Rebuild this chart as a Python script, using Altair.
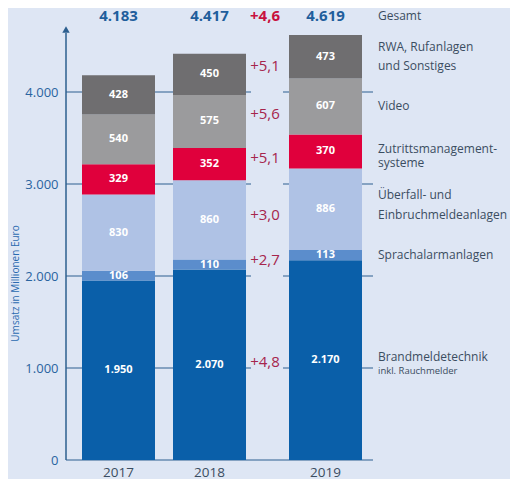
import pandas as pd
import altair as alt

# --- data (Mio. Euro) ---
years = ["2017", "2018", "2019"]
segments = [
    "Brandmeldetechnik",
    "Sprachalarmanlagen",
    "Überfall- und Einbruchmeldeanlagen",
    "Zutrittsmanagementsysteme",
    "Video",
    "RWA, Rufanlagen und Sonstiges",
]
brand = [1950, 2070, 2170]
sprach = [106, 110, 113]
ueberfall = [830, 860, 886]
zutritt = [329, 352, 370]
video = [540, 575, 607]
rwa = [428, 450, 473]
totals = [4183, 4417, 4619]
growth_total = "+4,6"
growth = ["+4,8", "+2,7", "+3,0", "+5,1", "+5,6", "+5,1"]  # bottom to top
right_lines = [
    ["Brandmeldetechnik", "inkl. Rauchmelder"],
    ["Sprachalarmanlagen"],
    ["Überfall- und", "Einbruchmeldeanlagen"],
    ["Zutrittsmanagement-", "systeme"],
    ["Video"],
    ["RWA, Rufanlagen", "und Sonstiges"],
]
y_ticks = [0, 1000, 2000, 3000, 4000]

series = [brand, sprach, ueberfall, zutritt, video, rwa]
colors = ["#0a5fa9", "#5b8dcc", "#afc2e5", "#e0003c", "#9b9b9d", "#6f6e70"]

# --- layout ---
W, H = 444, 446
U = 4000 / 368  # data units per pixel
YMAX = H * U
BAR_W = 73
GRID_END = 307
GAP_X = 199
RIGHT_X = 312
TOP_ROW = 444 * U
BG = "#dee6f4"
FONT = "Open Sans"


def de(v):
    return f"{v:,}".replace(",", ".")


rows = []
for i, yr in enumerate(years):
    left = 16 + i * 91 + (25 if i == 2 else 0)
    base = 0
    for seg, vals in zip(segments, series):
        v = vals[i]
        rows.append(dict(year=yr, seg=seg, x0=left, x1=left + BAR_W, xc=left + BAR_W / 2,
                         y0=base, y1=base + v, ym=base + v / 2, label=de(v)))
        base += v
bars_df = pd.DataFrame(rows)

mid = {(r["year"], r["seg"]): r["ym"] for r in rows}
centers = bars_df.drop_duplicates("year")[["year", "xc"]].reset_index(drop=True)

totals_df = pd.DataFrame({"xc": centers["xc"], "y": TOP_ROW, "label": [de(t) for t in totals]})
years_df = pd.DataFrame({"xc": centers["xc"], "y": 0, "label": years})

growth_df = pd.DataFrame({
    "x": GAP_X,
    "y": [(mid[("2018", s)] + mid[("2019", s)]) / 2 for s in segments],
    "label": growth,
})

# right side legend text, one row per line (pixel offsets around the 2019 segment centre)
line_offsets = [[-3, 11], [0], [-14, 6], [-2, 11.5], [0], [-9.5, 9.5]]
rl = [dict(x=RIGHT_X, y=TOP_ROW, label="Gesamt", size=12)]
for s, lines, offs in zip(segments, right_lines, line_offsets):
    for j, (t, o) in enumerate(zip(lines, offs)):
        small = s == "Brandmeldetechnik" and j == 1
        rl.append(dict(x=RIGHT_X, y=mid[("2019", s)] - o * U, label=t, size=9.5 if small else 12))
right_df = pd.DataFrame(rl)

grid_df = pd.DataFrame({"y": y_ticks, "x0": 0, "x1": GRID_END})

xs = alt.Scale(domain=[0, W], nice=False, zero=False)
ys = alt.Scale(domain=[0, YMAX], nice=False)
yaxis = alt.Axis(
    values=y_ticks, labelExpr="replace(format(datum.value, ','), ',', '.')",
    domain=False, ticks=False, grid=False, labelPadding=8,
    labelColor="#2a64a0", labelFontSize=13, labelFont=FONT,
    title="Umsatz in Millionen Euro", titleColor="#2a6ab0", titleFontSize=10,
    titleFont=FONT, titleFontWeight="normal", titleAngle=270,
    titleX=-51, titleY=269, titleAlign="center", titleBaseline="middle",
)


def X(f):
    return alt.X(f, type="quantitative", scale=xs, axis=None)


def Y(f):
    return alt.Y(f, type="quantitative", scale=ys, axis=yaxis)


grid = alt.Chart(grid_df).mark_rule(color="#2d5f8f", strokeWidth=1.2).encode(
    x=X("x0"), x2="x1", y=Y("y"))

mask = alt.Chart(pd.DataFrame({"x0": [GAP_X - 14], "x1": [GAP_X + 18], "y0": [500], "y1": [4800]})).mark_rect(
    color=BG).encode(x=X("x0"), x2="x1", y=Y("y0"), y2="y1")

axis_line = alt.Chart(pd.DataFrame({"x": [0], "y0": [0], "y1": [4640]})).mark_rule(
    color="#2d5f8f", strokeWidth=1.5).encode(x=X("x"), y=Y("y0"), y2="y1")

arrow = alt.Chart(pd.DataFrame({"x": [0], "y": [4680]})).mark_point(
    shape="triangle-up", filled=True, size=55, color="#2d5f8f", opacity=1).encode(x=X("x"), y=Y("y"))

bars = alt.Chart(bars_df).mark_rect().encode(
    x=X("x0"), x2="x1", y=Y("y0"), y2="y1",
    color=alt.Color("seg:N", scale=alt.Scale(domain=segments, range=colors), legend=None),
)

seg_text = alt.Chart(bars_df).mark_text(
    color="white", fontWeight="bold", fontSize=11, font=FONT, baseline="middle").encode(
    x=X("xc"), y=Y("ym"), text="label")

total_text = alt.Chart(totals_df).mark_text(
    color="#1f5e9c", fontWeight="bold", fontSize=15, font=FONT, baseline="middle").encode(
    x=X("xc"), y=Y("y"), text="label")

total_growth = alt.Chart(pd.DataFrame({"x": [GAP_X], "y": [TOP_ROW], "label": [growth_total]})).mark_text(
    color="#c8103e", fontWeight="bold", fontSize=15, font=FONT, baseline="middle").encode(
    x=X("x"), y=Y("y"), text="label")

growth_text = alt.Chart(growth_df).mark_text(
    color="#a6254c", fontSize=15, font=FONT, baseline="middle").encode(
    x=X("x"), y=Y("y"), text="label")

year_text = alt.Chart(years_df).mark_text(
    color="#3b4d61", fontSize=13.5, font=FONT, baseline="top", dy=6).encode(
    x=X("xc"), y=Y("y"), text="label")

right_text = alt.Chart(right_df).mark_text(
    color="#3b4d61", font=FONT, align="left", baseline="middle").encode(
    x=X("x"), y=Y("y"), text="label", size=alt.Size("size:Q", scale=None, legend=None))

chart = alt.layer(
    grid, mask, axis_line, arrow, bars, seg_text, total_text, total_growth,
    growth_text, year_text, right_text,
).properties(
    width=W, height=H,
    padding={"left": 58, "top": 6, "right": 0, "bottom": 19},
    autosize=alt.AutoSizeParams(type="none"),
    background=BG,
).configure_view(stroke=None)

chart.save("out.html", embed_options={"renderer": "svg", "actions": False})
